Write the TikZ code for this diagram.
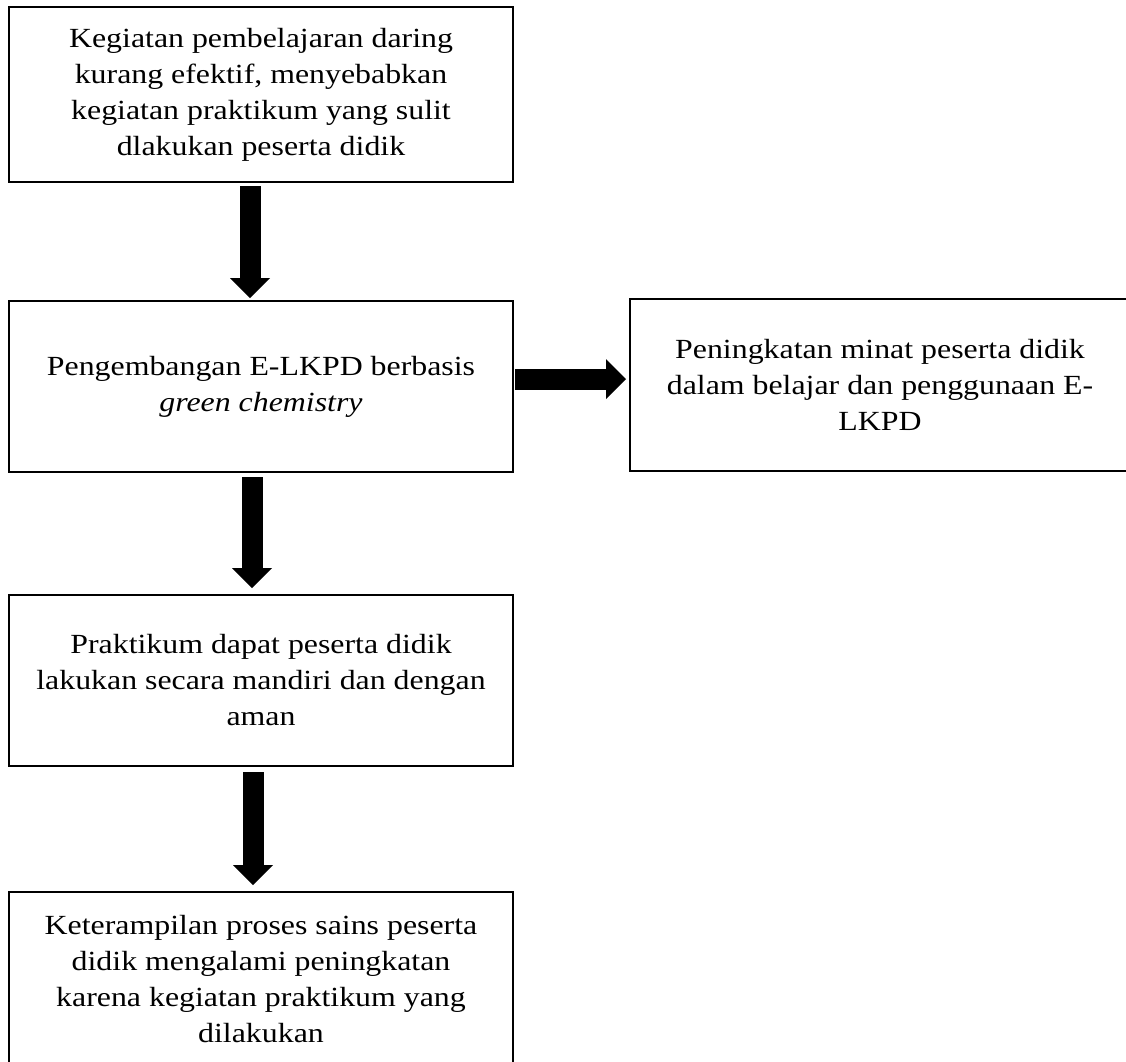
\documentclass[tikz,border=0pt]{standalone}
\usepackage{fontspec}
\setmainfont{Liberation Serif}[FakeStretch=1.15]
\usetikzlibrary{arrows.meta,calc}
\tikzset{
  flowbox/.style={draw=black, line width=2pt, fill=white, inner sep=0pt, align=center,
    font=\fontsize{27.7}{36}\selectfont},
  blockarrow/.style={line width=21pt, draw=black,
    -{Triangle[length=20pt, width=40pt, line width=0pt]}}
}
\begin{document}
\begin{tikzpicture}[x=1pt,y=-1pt]
\useasboundingbox (0,0) rectangle (1126,1061);
\fill[white] (0,0) rectangle (1126,1061);
\clip (0,0) rectangle (1126,1061);
\node[flowbox, minimum width=504pt, minimum height=175pt] (b1) at (261,94.5)
  {Kegiatan pembelajaran daring\\kurang efektif, menyebabkan\\kegiatan praktikum yang sulit\\dlakukan peserta didik};
\node[flowbox, minimum width=504pt, minimum height=171pt] (b2) at (261,386.5)
  {Pengembangan E-LKPD berbasis\\\textit{green chemistry}};
\node[flowbox, minimum width=500pt, minimum height=172pt] (b3) at (880,385)
  {Peningkatan minat peserta didik\\dalam belajar dan penggunaan E-\\LKPD};
\node[flowbox, minimum width=504pt, minimum height=171pt] (b4) at (261,680.5)
  {Praktikum dapat peserta didik\\lakukan secara mandiri dan dengan\\aman};
\node[flowbox, minimum width=504pt, minimum height=175pt] (b5) at (261,979.5)
  {Keterampilan proses sains peserta\\didik mengalami peningkatan\\karena kegiatan praktikum yang\\dilakukan};
\draw[blockarrow] ($(b1.south)+(-11,3)$) -- ($(b2.north)+(-11,-2)$);
\draw[blockarrow] ($(b2.east)+(1,-7.5)$) -- ($(b3.west)+(-3,-6)$);
\draw[blockarrow] ($(b2.south)+(-9,4)$) -- ($(b4.north)+(-9,-6)$);
\draw[blockarrow] ($(b4.south)+(-8,5)$) -- ($(b5.north)+(-8,-6)$);
\end{tikzpicture}
\end{document}
